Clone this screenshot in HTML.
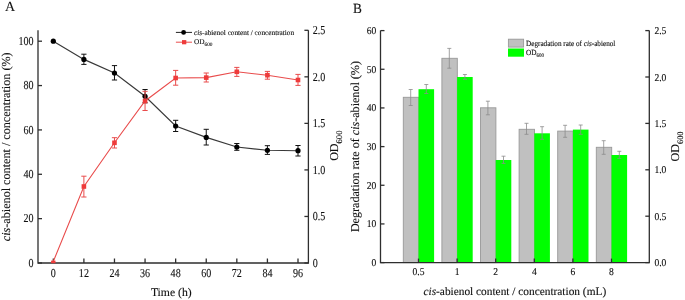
<!DOCTYPE html>
<html><head><meta charset="utf-8"><style>
html,body{margin:0;padding:0;background:#fff;}
body{width:685px;height:300px;overflow:hidden;}
svg{display:block;will-change:transform;}
text{text-rendering:geometricPrecision;stroke:#111;stroke-width:0.12px;}
</style></head><body>
<svg width="685" height="300" viewBox="0 0 685 300">
<rect width="685" height="300" fill="#fff"/>
<g stroke="#2e2e2e" stroke-width="1.3" fill="none">
<path d="M38.0,30.3 V263.0 H308.4 V30.3"/>
<path d="M38.0,263.00 h4"/>
<path d="M38.0,218.64 h4"/>
<path d="M38.0,174.28 h4"/>
<path d="M38.0,129.92 h4"/>
<path d="M38.0,85.56 h4"/>
<path d="M38.0,41.20 h4"/>
<path d="M308.4,263.00 h-4"/>
<path d="M308.4,216.46 h-4"/>
<path d="M308.4,169.92 h-4"/>
<path d="M308.4,123.38 h-4"/>
<path d="M308.4,76.84 h-4"/>
<path d="M308.4,30.30 h-4"/>
<path d="M53.30,263.0 v-4.5"/>
<path d="M83.89,263.0 v-4.5"/>
<path d="M114.47,263.0 v-4.5"/>
<path d="M145.06,263.0 v-4.5"/>
<path d="M175.65,263.0 v-4.5"/>
<path d="M206.24,263.0 v-4.5"/>
<path d="M236.82,263.0 v-4.5"/>
<path d="M267.41,263.0 v-4.5"/>
<path d="M298.00,263.0 v-4.5"/>
</g>
<polyline points="53.30,41.20 83.89,59.40 114.47,73.00 145.06,96.30 175.65,126.00 206.24,137.40 236.82,147.00 267.41,150.30 298.00,150.70" fill="none" stroke="#383838" stroke-width="1.15"/>
<circle cx="53.30" cy="41.20" r="2.6" fill="#000"/>
<path d="M83.89,54.2 V64.4 M81.29,54.2 h5.2 M81.29,64.4 h5.2" stroke="#111" stroke-width="1" fill="none"/>
<circle cx="83.89" cy="59.40" r="2.6" fill="#000"/>
<path d="M114.47,65.6 V80 M111.88,65.6 h5.2 M111.88,80 h5.2" stroke="#111" stroke-width="1" fill="none"/>
<circle cx="114.47" cy="73.00" r="2.6" fill="#000"/>
<path d="M145.06,89.5 V102.8 M142.46,89.5 h5.2 M142.46,102.8 h5.2" stroke="#111" stroke-width="1" fill="none"/>
<circle cx="145.06" cy="96.30" r="2.6" fill="#000"/>
<path d="M175.65,120.3 V131.5 M173.05,120.3 h5.2 M173.05,131.5 h5.2" stroke="#111" stroke-width="1" fill="none"/>
<circle cx="175.65" cy="126.00" r="2.6" fill="#000"/>
<path d="M206.24,129.3 V145 M203.64,129.3 h5.2 M203.64,145 h5.2" stroke="#111" stroke-width="1" fill="none"/>
<circle cx="206.24" cy="137.40" r="2.6" fill="#000"/>
<path d="M236.82,143.5 V150.3 M234.22,143.5 h5.2 M234.22,150.3 h5.2" stroke="#111" stroke-width="1" fill="none"/>
<circle cx="236.82" cy="147.00" r="2.6" fill="#000"/>
<path d="M267.41,145.7 V154.4 M264.81,145.7 h5.2 M264.81,154.4 h5.2" stroke="#111" stroke-width="1" fill="none"/>
<circle cx="267.41" cy="150.30" r="2.6" fill="#000"/>
<path d="M298.00,145.5 V156 M295.40,145.5 h5.2 M295.40,156 h5.2" stroke="#111" stroke-width="1" fill="none"/>
<circle cx="298.00" cy="150.70" r="2.6" fill="#000"/>
<polyline points="53.30,261.50 83.89,186.50 114.47,142.80 145.06,101.00 175.65,78.00 206.24,77.60 236.82,71.80 267.41,75.20 298.00,80.00" fill="none" stroke="#e94c4c" stroke-width="1.1"/>
<rect x="51.10" y="260.6" width="4.4" height="2.6" fill="#ee3b3b"/>
<path d="M83.89,176.2 V197 M81.29,176.2 h5.2 M81.29,197 h5.2" stroke="#e94c4c" stroke-width="1" fill="none"/>
<rect x="81.59" y="184.20" width="4.6" height="4.6" fill="#ee3b3b"/>
<path d="M114.47,137.7 V148 M111.88,137.7 h5.2 M111.88,148 h5.2" stroke="#e94c4c" stroke-width="1" fill="none"/>
<rect x="112.17" y="140.50" width="4.6" height="4.6" fill="#ee3b3b"/>
<path d="M145.06,91.3 V110.5 M142.46,91.3 h5.2 M142.46,110.5 h5.2" stroke="#e94c4c" stroke-width="1" fill="none"/>
<rect x="142.76" y="98.70" width="4.6" height="4.6" fill="#ee3b3b"/>
<path d="M175.65,70.4 V85.2 M173.05,70.4 h5.2 M173.05,85.2 h5.2" stroke="#e94c4c" stroke-width="1" fill="none"/>
<rect x="173.35" y="75.70" width="4.6" height="4.6" fill="#ee3b3b"/>
<path d="M206.24,73 V82 M203.64,73 h5.2 M203.64,82 h5.2" stroke="#e94c4c" stroke-width="1" fill="none"/>
<rect x="203.94" y="75.30" width="4.6" height="4.6" fill="#ee3b3b"/>
<path d="M236.82,67.4 V76.4 M234.22,67.4 h5.2 M234.22,76.4 h5.2" stroke="#e94c4c" stroke-width="1" fill="none"/>
<rect x="234.52" y="69.50" width="4.6" height="4.6" fill="#ee3b3b"/>
<path d="M267.41,71.4 V79.2 M264.81,71.4 h5.2 M264.81,79.2 h5.2" stroke="#e94c4c" stroke-width="1" fill="none"/>
<rect x="265.11" y="72.90" width="4.6" height="4.6" fill="#ee3b3b"/>
<path d="M298.00,74.4 V85.4 M295.40,74.4 h5.2 M295.40,85.4 h5.2" stroke="#e94c4c" stroke-width="1" fill="none"/>
<rect x="295.70" y="77.70" width="4.6" height="4.6" fill="#ee3b3b"/>
<path d="M175.9,32.4 H192" stroke="#222" stroke-width="1"/>
<circle cx="183.6" cy="32.4" r="2.4" fill="#000"/>
<path d="M175.9,42.2 H192" stroke="#e94c4c" stroke-width="1"/>
<rect x="182" y="40.1" width="4.3" height="4.2" fill="#ee3b3b"/>
<g font-family='"Liberation Serif", serif'>
<text transform="translate(33.50,266.85) scale(0.825,1)" font-size="12.2" text-anchor="end" fill="#111">0</text>
<text transform="translate(33.50,222.49) scale(0.825,1)" font-size="12.2" text-anchor="end" fill="#111">20</text>
<text transform="translate(33.50,178.13) scale(0.825,1)" font-size="12.2" text-anchor="end" fill="#111">40</text>
<text transform="translate(33.50,133.77) scale(0.825,1)" font-size="12.2" text-anchor="end" fill="#111">60</text>
<text transform="translate(33.50,89.41) scale(0.825,1)" font-size="12.2" text-anchor="end" fill="#111">80</text>
<text transform="translate(33.50,45.05) scale(0.825,1)" font-size="12.2" text-anchor="end" fill="#111">100</text>
<text transform="translate(312.80,266.85) scale(0.825,1)" font-size="12.2" fill="#111">0</text>
<text transform="translate(312.80,220.31) scale(0.825,1)" font-size="12.2" fill="#111">0.5</text>
<text transform="translate(312.80,173.77) scale(0.825,1)" font-size="12.2" fill="#111">1.0</text>
<text transform="translate(312.80,127.23) scale(0.825,1)" font-size="12.2" fill="#111">1.5</text>
<text transform="translate(312.80,80.69) scale(0.825,1)" font-size="12.2" fill="#111">2.0</text>
<text transform="translate(312.80,34.15) scale(0.825,1)" font-size="12.2" fill="#111">2.5</text>
<text transform="translate(53.30,277.00) scale(0.825,1)" font-size="12.2" text-anchor="middle" fill="#111">0</text>
<text transform="translate(83.89,277.00) scale(0.825,1)" font-size="12.2" text-anchor="middle" fill="#111">12</text>
<text transform="translate(114.47,277.00) scale(0.825,1)" font-size="12.2" text-anchor="middle" fill="#111">24</text>
<text transform="translate(145.06,277.00) scale(0.825,1)" font-size="12.2" text-anchor="middle" fill="#111">36</text>
<text transform="translate(175.65,277.00) scale(0.825,1)" font-size="12.2" text-anchor="middle" fill="#111">48</text>
<text transform="translate(206.24,277.00) scale(0.825,1)" font-size="12.2" text-anchor="middle" fill="#111">60</text>
<text transform="translate(236.82,277.00) scale(0.825,1)" font-size="12.2" text-anchor="middle" fill="#111">72</text>
<text transform="translate(267.41,277.00) scale(0.825,1)" font-size="12.2" text-anchor="middle" fill="#111">84</text>
<text transform="translate(298.00,277.00) scale(0.825,1)" font-size="12.2" text-anchor="middle" fill="#111">96</text>
<text transform="translate(171.30,296.30)" font-size="11.7" text-anchor="middle" fill="#111">Time (h)</text>
<text transform="translate(10.40,146.80) rotate(-90)" font-size="12.15" text-anchor="middle" fill="#111"><tspan font-style="italic">cis</tspan>-abienol content / concentration (%)</text>
<text transform="translate(338.00,160.80) rotate(-90)" font-size="12" fill="#111">OD<tspan font-size="8.6" dy="4.4">600</tspan></text>
<text transform="translate(5.00,10.60)" font-size="14" fill="#111">A</text>
<text transform="translate(194.00,34.90)" font-size="7.25" fill="#111"><tspan font-style="italic">cis</tspan>-abienol content / concentration</text>
<text transform="translate(194.00,44.40)" font-size="7.3" fill="#111">OD<tspan font-size="5.3" dy="1.9">600</tspan></text>
</g>
<rect x="403.30" y="97.30" width="15.40" height="165.30" fill="#c0c0c0" stroke="#999999" stroke-width="0.9"/>
<rect x="418.50" y="89.20" width="15.60" height="173.40" fill="#00ff00"/>
<rect x="441.90" y="58.30" width="15.40" height="204.30" fill="#c0c0c0" stroke="#999999" stroke-width="0.9"/>
<rect x="457.10" y="77.00" width="15.60" height="185.60" fill="#00ff00"/>
<rect x="480.50" y="107.80" width="15.40" height="154.80" fill="#c0c0c0" stroke="#999999" stroke-width="0.9"/>
<rect x="495.70" y="160.00" width="15.60" height="102.60" fill="#00ff00"/>
<rect x="519.10" y="129.30" width="15.40" height="133.30" fill="#c0c0c0" stroke="#999999" stroke-width="0.9"/>
<rect x="534.30" y="133.30" width="15.60" height="129.30" fill="#00ff00"/>
<rect x="557.70" y="131.10" width="15.40" height="131.50" fill="#c0c0c0" stroke="#999999" stroke-width="0.9"/>
<rect x="572.90" y="129.60" width="15.60" height="133.00" fill="#00ff00"/>
<rect x="596.30" y="147.30" width="15.40" height="115.30" fill="#c0c0c0" stroke="#999999" stroke-width="0.9"/>
<rect x="611.50" y="155.00" width="15.60" height="107.60" fill="#00ff00"/>
<path d="M410.70,89.5 V105.5 M408.70,89.5 h4 M408.70,105.5 h4" stroke="#8c8c8c" stroke-width="0.8" fill="none"/>
<path d="M426.30,84.5 V93.5 M424.30,84.5 h4 M424.30,93.5 h4" stroke="#8c8c8c" stroke-width="0.8" fill="none"/>
<path d="M449.30,48.4 V68.2 M447.30,48.4 h4 M447.30,68.2 h4" stroke="#8c8c8c" stroke-width="0.8" fill="none"/>
<path d="M464.90,74.5 V79.3 M462.90,74.5 h4 M462.90,79.3 h4" stroke="#8c8c8c" stroke-width="0.8" fill="none"/>
<path d="M487.90,101.2 V114.8 M485.90,101.2 h4 M485.90,114.8 h4" stroke="#8c8c8c" stroke-width="0.8" fill="none"/>
<path d="M503.50,156.2 V163.4 M501.50,156.2 h4 M501.50,163.4 h4" stroke="#8c8c8c" stroke-width="0.8" fill="none"/>
<path d="M526.50,123.3 V134.3 M524.50,123.3 h4 M524.50,134.3 h4" stroke="#8c8c8c" stroke-width="0.8" fill="none"/>
<path d="M542.10,126.7 V139.3 M540.10,126.7 h4 M540.10,139.3 h4" stroke="#8c8c8c" stroke-width="0.8" fill="none"/>
<path d="M565.10,125.3 V137.3 M563.10,125.3 h4 M563.10,137.3 h4" stroke="#8c8c8c" stroke-width="0.8" fill="none"/>
<path d="M580.70,125.0 V134.3 M578.70,125.0 h4 M578.70,134.3 h4" stroke="#8c8c8c" stroke-width="0.8" fill="none"/>
<path d="M603.70,140.7 V154.3 M601.70,140.7 h4 M601.70,154.3 h4" stroke="#8c8c8c" stroke-width="0.8" fill="none"/>
<path d="M619.30,151.3 V158.4 M617.30,151.3 h4 M617.30,158.4 h4" stroke="#8c8c8c" stroke-width="0.8" fill="none"/>
<g stroke="#2e2e2e" stroke-width="1.3" fill="none">
<path d="M380.5,30.6 V262.6 H649.3 V30.6"/>
<path d="M380.5,262.60 h4"/>
<path d="M380.5,223.93 h4"/>
<path d="M380.5,185.27 h4"/>
<path d="M380.5,146.60 h4"/>
<path d="M380.5,107.93 h4"/>
<path d="M380.5,69.27 h4"/>
<path d="M380.5,30.60 h4"/>
<path d="M649.3,262.60 h-4"/>
<path d="M649.3,216.20 h-4"/>
<path d="M649.3,169.80 h-4"/>
<path d="M649.3,123.40 h-4"/>
<path d="M649.3,77.00 h-4"/>
<path d="M649.3,30.60 h-4"/>
<path d="M418.50,262.6 v-4"/>
<path d="M457.10,262.6 v-4"/>
<path d="M495.70,262.6 v-4"/>
<path d="M534.30,262.6 v-4"/>
<path d="M572.90,262.6 v-4"/>
<path d="M611.50,262.6 v-4"/>
</g>
<rect x="508.4" y="39.2" width="15.2" height="7.9" fill="#c0c0c0" stroke="#999999" stroke-width="0.9"/>
<rect x="508" y="48.5" width="16" height="8.2" fill="#00ff00"/>
<g font-family='"Liberation Serif", serif'>
<text transform="translate(376.30,266.10) scale(0.92,1)" font-size="10.4" text-anchor="end" fill="#111">0</text>
<text transform="translate(376.30,227.43) scale(0.92,1)" font-size="10.4" text-anchor="end" fill="#111">10</text>
<text transform="translate(376.30,188.77) scale(0.92,1)" font-size="10.4" text-anchor="end" fill="#111">20</text>
<text transform="translate(376.30,150.10) scale(0.92,1)" font-size="10.4" text-anchor="end" fill="#111">30</text>
<text transform="translate(376.30,111.43) scale(0.92,1)" font-size="10.4" text-anchor="end" fill="#111">40</text>
<text transform="translate(376.30,72.77) scale(0.92,1)" font-size="10.4" text-anchor="end" fill="#111">50</text>
<text transform="translate(376.30,34.10) scale(0.92,1)" font-size="10.4" text-anchor="end" fill="#111">60</text>
<text transform="translate(654.40,266.10) scale(0.92,1)" font-size="10.4" fill="#111">0.0</text>
<text transform="translate(654.40,219.70) scale(0.92,1)" font-size="10.4" fill="#111">0.5</text>
<text transform="translate(654.40,173.30) scale(0.92,1)" font-size="10.4" fill="#111">1.0</text>
<text transform="translate(654.40,126.90) scale(0.92,1)" font-size="10.4" fill="#111">1.5</text>
<text transform="translate(654.40,80.50) scale(0.92,1)" font-size="10.4" fill="#111">2.0</text>
<text transform="translate(654.40,34.10) scale(0.92,1)" font-size="10.4" fill="#111">2.5</text>
<text transform="translate(418.50,275.20) scale(0.92,1)" font-size="10.4" text-anchor="middle" fill="#111">0.5</text>
<text transform="translate(457.10,275.20) scale(0.92,1)" font-size="10.4" text-anchor="middle" fill="#111">1</text>
<text transform="translate(495.70,275.20) scale(0.92,1)" font-size="10.4" text-anchor="middle" fill="#111">2</text>
<text transform="translate(534.30,275.20) scale(0.92,1)" font-size="10.4" text-anchor="middle" fill="#111">4</text>
<text transform="translate(572.90,275.20) scale(0.92,1)" font-size="10.4" text-anchor="middle" fill="#111">6</text>
<text transform="translate(611.50,275.20) scale(0.92,1)" font-size="10.4" text-anchor="middle" fill="#111">8</text>
<text transform="translate(514.80,294.60)" font-size="11.35" text-anchor="middle" fill="#111"><tspan font-style="italic">cis</tspan>-abienol content / concentration (mL)</text>
<text transform="translate(359.30,146.60) rotate(-90)" font-size="12.08" text-anchor="middle" fill="#111">Degradation rate of <tspan font-style="italic">cis</tspan>-abienol (%)</text>
<text transform="translate(678.70,161.40) rotate(-90)" font-size="12" fill="#111">OD<tspan font-size="8.4" dy="3.8">600</tspan></text>
<text transform="translate(352.90,12.60) scale(0.95,1)" font-size="14" fill="#111">B</text>
<text transform="translate(526.00,45.70) scale(0.912,1)" font-size="7.9" fill="#111">Degradation rate of <tspan font-style="italic">cis</tspan>-abienol</text>
<text transform="translate(526.00,55.40) scale(0.92,1)" font-size="7.9" fill="#111">OD<tspan font-size="5.4" dy="2">600</tspan></text>
</g>
</svg>
</body></html>
